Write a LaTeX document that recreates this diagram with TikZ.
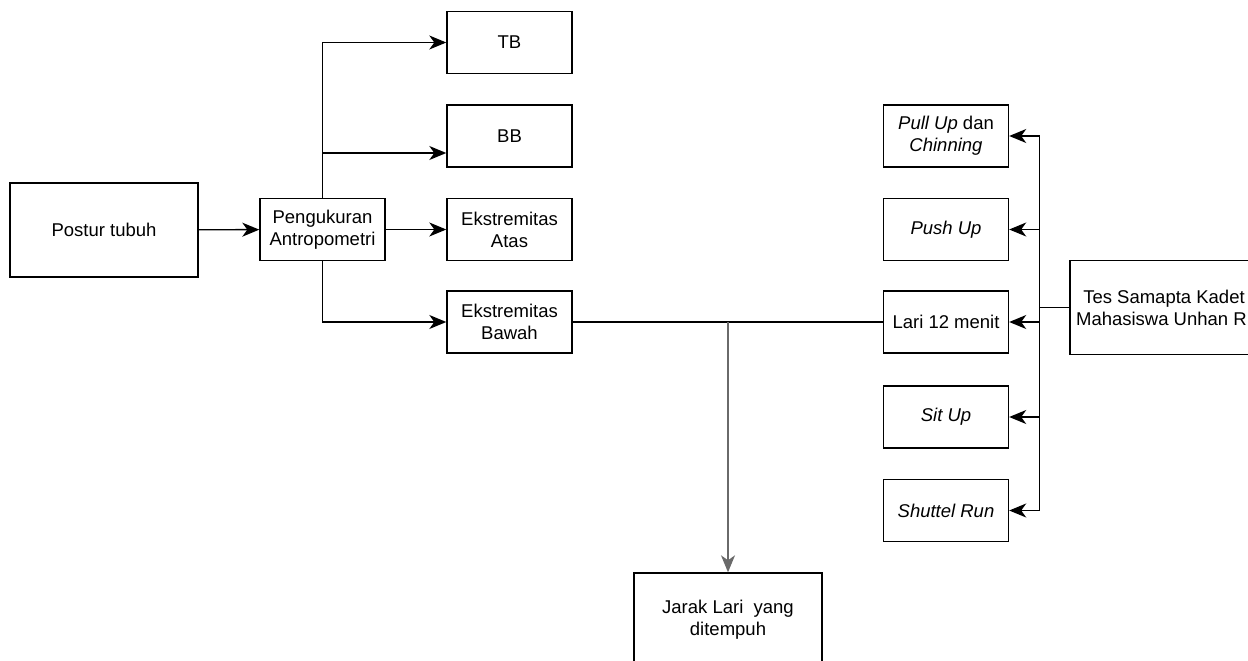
\documentclass[tikz,border=0pt]{standalone}
\usepackage{fontspec}
\setmainfont{Liberation Sans}
\usepackage{tikz}
\usetikzlibrary{arrows.meta,calc}
\usepackage{xcolor}
\definecolor{linegray}{HTML}{6a6a6a}

\begin{document}
\begin{tikzpicture}[x=1pt, y=-1pt, line width=1.4pt,
    box/.style={draw, minimum width=125pt, minimum height=62pt, inner sep=2pt,
      align=center, font=\fontsize{18.5}{22}\selectfont},
    bigbox/.style={box, minimum width=188pt, minimum height=94pt},
    arr/.style={-{Stealth[length=17pt, width=14pt, inset=5pt]}}]
  \useasboundingbox (0,0) rectangle (1248,661);
  \clip (0,0) rectangle (1248,661);
  \node[bigbox] (postur) at (104,230) {Postur tubuh};
  \node[box] (ukur) at (322.5,229.5) {Pengukuran\\Antropometri};
  \node[box] (tb) at (509.5,42.5) {TB};
  \node[box] (bb) at (509.5,136) {BB};
  \node[box] (atas) at (509.5,229.5) {Ekstremitas\\Atas};
  \node[box] (bawah) at (509.5,322) {Ekstremitas\\Bawah};
  \node[bigbox] (jarak) at (728,620) {Jarak Lari\ \ yang\\ditempuh};
  % tes samapta
  \node[box] (pull) at (946,136) {\textit{Pull Up} dan\\\textit{Chinning}};
  \node[box] (push) at (946,229.5) {\textit{Push Up}};
  \node[box] (lari) at (946,322) {Lari 12 menit};
  \node[box] (sit) at (946,417) {\textit{Sit Up}};
  \node[box] (shuttle) at (946,510.5) {\textit{Shuttel Run}};
  \node[bigbox] (tes) at (1164,307.5) {Tes Samapta Kadet\\Mahasiswa Unhan RI};
  \draw[arr] (postur) -- (ukur);
  \draw[arr] (ukur.north) |- (tb.west);
  \draw[arr] (ukur.north) |- ([yshift=-17pt]bb.west);
  \draw[arr] (ukur.east) -- (atas.west);
  \draw[arr] (ukur.south) |- (bawah.west);
  \draw (bawah.east) -- (lari.west);
  \coordinate (split) at (jarak.north |- lari.west);
  \draw[arr, linegray] (split) -- (jarak.north);
  \draw (tes.west) -- ++(-30,0) coordinate (hub);
  \foreach \n in {pull,push,lari,sit,shuttle}
    \draw[arr] (hub) |- (\n.east);
\end{tikzpicture}
\end{document}
